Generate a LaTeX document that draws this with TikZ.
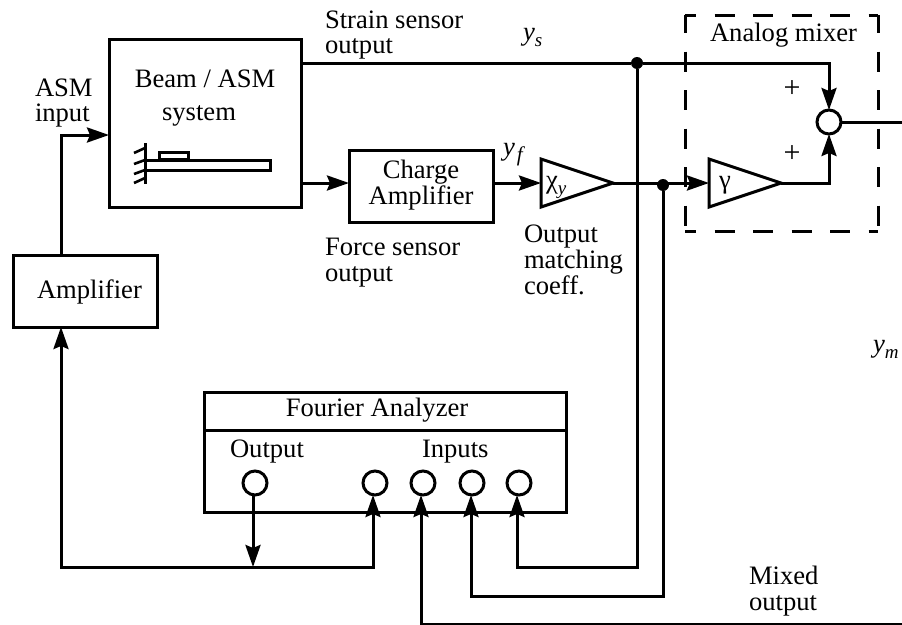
\documentclass[tikz,border=0pt]{standalone}
\usepackage{fontspec}
\setmainfont{Liberation Serif}
\usetikzlibrary{arrows.meta,shapes.geometric}
\tikzset{
 x=1pt,y=-1pt,
 every node/.style={inner sep=0pt,outer sep=0pt,font=\fontsize{26.6}{25.8}\selectfont},
 wire/.style={line width=3pt,line join=miter},
 arr/.style={wire,-{Stealth[length=22pt,width=15pt,inset=3pt]}},
 boxn/.style={draw,line width=3pt,minimum width=#1},
 txt/.style={align=left,anchor=west},
 ctxt/.style={align=center},
 port/.style={draw,circle,line width=3pt,minimum size=24pt,fill=white},
 dotn/.style={fill=black,circle,minimum size=12pt},
 tri/.style={draw,line width=3pt,isosceles triangle,isosceles triangle apex angle=36.87,isosceles triangle stretches,minimum width=48pt,minimum height=72pt,anchor=lower side},
 dashside/.style={line width=3pt,dash pattern=on 20pt off 18.5pt},
}
\begin{document}
\begin{tikzpicture}
\useasboundingbox (0,0) rectangle (902,624);
% boxes
\node[boxn=192pt,minimum height=168pt] (beam) at (205,123) {};
\node[boxn=144pt,minimum height=72pt] (amp) at (85,291) {};
\node[boxn=144pt,minimum height=72pt] (charge) at (421,186) {};
\node[boxn=362pt,minimum height=120pt] (fa) at (385,452) {};
\node[tri] (chi) at (541,183) {};
\node[tri] (gam) at (709,183) {};
\node[port] (sum) at (829,122) {};
\node[port] (pout) at (255,483) {};
\node[port] (p1) at (375,483) {};
\node[port] (p2) at (423,483) {};
\node[port] (p3) at (472,483) {};
\node[port] (p4) at (519,483) {};
\node[dotn] (ds) at (637,63) {};
\node[dotn] (df) at (663,185) {};
% coordinates
\coordinate (dTL) at (685,15); \coordinate (dTR) at (878,15);
\coordinate (dBL) at (685,231); \coordinate (dBR) at (878,231);
\coordinate (faL) at (204,430); \coordinate (faR) at (566,430);
\coordinate (outR) at (902,122);
\coordinate (mixR) at (902,624);
\coordinate (tapO) at (253,567);
\coordinate (cornerL) at (61,567);
% dashed box
\draw[dashside,dash phase=9pt] (dTL) -- (dTR);
\draw[dashside,dash phase=9pt] (dBL) -- (dBR);
\draw[dashside,dash phase=2pt] (dTL) -- (dBL);
\draw[dashside,dash phase=2pt] (dTR) -- (dBR);
\draw[wire] (faL) -- (faR);
% connectors
\draw[arr] (amp.north -| 61,0) |- (beam.west |- 0,135);
\draw[wire] (beam.east |- 0,63) -- (ds);
\draw[arr] (ds) -| (sum.north);
\draw[arr] (beam.east |- 0,183) -- (charge.west |- 0,183);
\draw[arr] (charge.east |- 0,183) -- (chi.lower side);
\draw[wire] (chi.apex) -- (df.center |- chi.apex);
\draw[arr] (df.center |- chi.apex) -- (gam.lower side);
\draw[arr] (gam.apex) -| (sum.south);
\draw[wire] (sum.east) -- (outR);
\draw[arr] (ds) |- (517,567) -- ([xshift=-2pt]p4.south);
\draw[arr] (df) |- (471,596) -- ([xshift=-1pt]p3.south);
\draw[arr] (mixR) -| ([xshift=-2pt]p2.south);
\draw[arr] ([xshift=-2pt]pout.south) -- (tapO);
\draw[arr] (cornerL) -- (amp.south -| cornerL);
\draw[arr,line cap=rect] (cornerL) -- (373,567) -- ([xshift=-2pt]p1.south);
% beam sketch
\draw[line width=3pt] (145,160) rectangle (270,170);
\draw[line width=3pt] (159,152) rectangle (188,159);
\draw[line width=3pt] (145,143) -- (145,184);
\draw[line width=2.6pt] (145,148) -- (134,153);
\draw[line width=2.6pt] (145,160) -- (134,164);
\draw[line width=2.6pt] (145,170) -- (134,174);
\draw[line width=2.6pt] (145,178) -- (134,183);
% text
\node[ctxt] (t1) at (205,98) {Beam / ASM\\[8pt]\hspace*{-12pt}system};
\node[txt] (t2) at (35,103) {ASM\\input};
\node[txt] (t3) at (325,35) {Strain sensor\\output};
\node[txt] (t4) at (37,292) {Amplifier};
\node[ctxt] (t5) at (421,185) {Charge\\Amplifier};
\node[txt] (t6) at (325,263) {Force sensor\\output};
\node[txt] (t7) at (524,260) {Output\\matching\\coeff.};
\node[txt] (t8) at (710,35) {Analog mixer};
\node[ctxt] (t9) at (377,410) {Fourier Analyzer};
\node[txt] (t10) at (230,452) {Output};
\node[txt] (t11) at (422,452) {Inputs};
\node[txt] (t12) at (749,591) {Mixed\\output};
\node[anchor=base west] (ys) at (523,40) {\textit{y}\raisebox{-6pt}{\fontsize{19}{19}\selectfont\textit{s}}};
\node[anchor=base west] (yf) at (503,155) {\textit{y}\raisebox{-6pt}{\fontsize{21}{21}\selectfont\hspace{2pt}\textit{f}}};
\node[anchor=base west] (ym) at (873,352) {\textit{y}\raisebox{-6pt}{\fontsize{19}{19}\selectfont\textit{m}}};
\node[anchor=base west] (chil) at (546,188) {χ\raisebox{-6pt}{\fontsize{19}{19}\selectfont\textit{y}}};
\node[anchor=base west] (gaml) at (719,188) {γ};
\node[font=\fontsize{30}{30}\selectfont] (plus1) at (792,89) {+};
\node[font=\fontsize{30}{30}\selectfont] (plus2) at (792,154) {+};
\end{tikzpicture}
\end{document}
